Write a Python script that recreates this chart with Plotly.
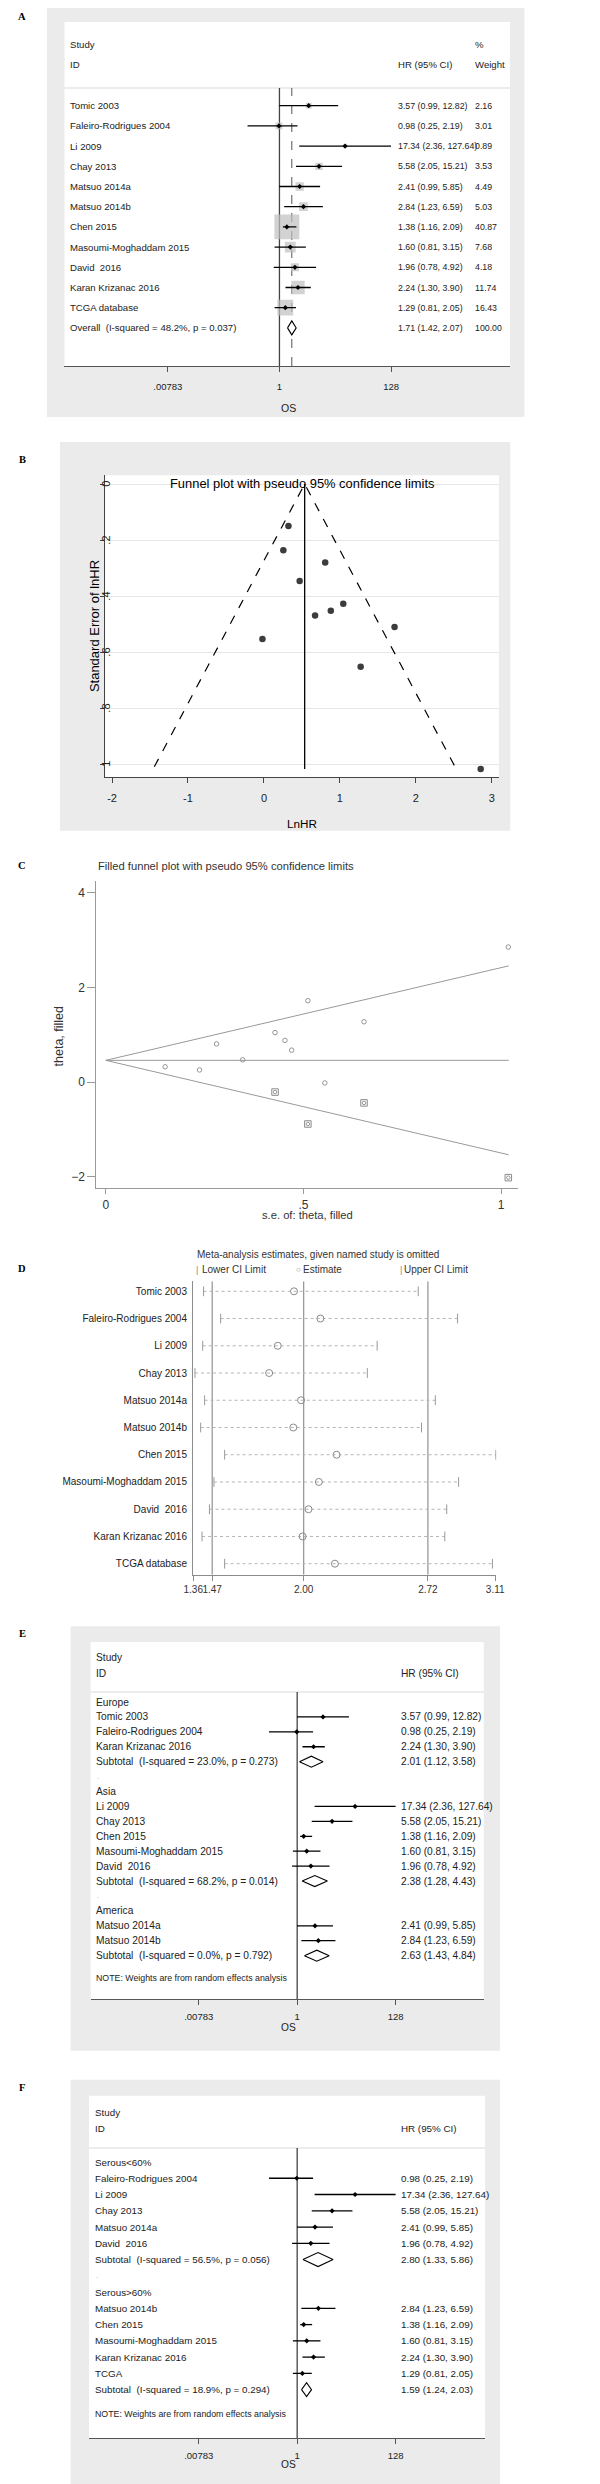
import numpy as np
import plotly.graph_objects as go

W, H = 600, 2484
SANS = "Arial, Liberation Sans, Helvetica, sans-serif"
SERIF = "Times New Roman, Liberation Serif, serif"
INK = "#222222"
PANEL_BG = "#ebebeb"

# ---------------- DATA ----------------
# Panel A: overall forest plot
a_studies = ["Tomic 2003", "Faleiro-Rodrigues 2004", "Li 2009", "Chay 2013", "Matsuo 2014a",
             "Matsuo 2014b", "Chen 2015", "Masoumi-Moghaddam 2015", "David\u00a0 2016",
             "Karan Krizanac 2016", "TCGA database"]
a_hr = [3.57, 0.98, 17.34, 5.58, 2.41, 2.84, 1.38, 1.60, 1.96, 2.24, 1.29]
a_lo = [0.99, 0.25, 2.36, 2.05, 0.99, 1.23, 1.16, 0.81, 0.78, 1.30, 0.81]
a_hi = [12.82, 2.19, 127.64, 15.21, 5.85, 6.59, 2.09, 3.15, 4.92, 3.90, 2.05]
a_weight = [2.16, 3.01, 0.89, 3.53, 4.49, 5.03, 40.87, 7.68, 4.18, 11.74, 16.43]
a_overall_label = "Overall\u00a0 (I-squared = 48.2%, p = 0.037)"
a_overall = [1.71, 1.42, 2.07]
a_overall_weight = "100.00"
forest_ticks = [0.00783, 1, 128]
forest_ticktext = [".00783", "1", "128"]

# Panel B: funnel plot
b_lnhr = [1.273, -0.020, 2.853, 1.719, 0.880, 1.044, 0.322, 0.470, 0.673, 0.806, 0.255]
b_se = [0.653, 0.554, 1.018, 0.511, 0.453, 0.428, 0.150, 0.346, 0.470, 0.280, 0.237]
b_theta = 0.536
b_se_max = 1.01
b_xticks = [-2, -1, 0, 1, 2, 3]
b_yticks = [0, 0.2, 0.4, 0.6, 0.8, 1]
b_ytext = ["0", ".2", ".4", ".6", ".8", "1"]

# Panel C: filled funnel plot (trim and fill)
c_se_obs = b_se
c_theta_obs = b_lnhr
c_se_fill = [0.428, 0.511, 0.653, 1.018]
c_theta_fill = [-0.213, -0.888, -0.442, -2.022]
c_theta = 0.458
c_se_max = 1.019
c_xticks = [0, 0.5, 1]
c_xtext = ["0", ".5", "1"]
c_yticks = [-2, 0, 2, 4]

# Panel D: sensitivity analysis
d_studies = ["Tomic 2003", "Faleiro-Rodrigues 2004", "Li 2009", "Chay 2013", "Matsuo 2014a",
             "Matsuo 2014b", "Chen 2015", "Masoumi-Moghaddam 2015", "David\u00a0 2016",
             "Karan Krizanac 2016", "TCGA database"]
d_lower = [1.420, 1.519, 1.415, 1.370, 1.426, 1.403, 1.542, 1.480, 1.454, 1.411, 1.542]
d_est = [1.944, 2.097, 1.850, 1.800, 1.985, 1.940, 2.191, 2.088, 2.028, 1.994, 2.181]
d_upper = [2.664, 2.892, 2.426, 2.369, 2.763, 2.683, 3.114, 2.898, 2.829, 2.818, 3.094]
d_ticks = [1.36, 1.47, 2.00, 2.72, 3.11]
d_ticktext = ["1.36", "1.47", "2.00", "2.72", "3.11"]
d_refs = [1.47, 2.00, 2.72]

# Panel E: subgroup by region
e_labels = ["Europe", "Tomic 2003", "Faleiro-Rodrigues 2004", "Karan Krizanac 2016",
            "Subtotal\u00a0 (I-squared = 23.0%, p = 0.273)", ".", "Asia", "Li 2009", "Chay 2013",
            "Chen 2015", "Masoumi-Moghaddam 2015", "David\u00a0 2016",
            "Subtotal\u00a0 (I-squared = 68.2%, p = 0.014)", ".", "America", "Matsuo 2014a",
            "Matsuo 2014b", "Subtotal\u00a0 (I-squared = 0.0%, p = 0.792)"]
e_kind = ["g", "s", "s", "s", "t", "b", "g", "s", "s", "s", "s", "s", "t", "b", "g", "s", "s", "t"]
e_hr = [None, 3.57, 0.98, 2.24, 2.01, None, None, 17.34, 5.58, 1.38, 1.60, 1.96, 2.38, None, None, 2.41, 2.84, 2.63]
e_lo = [None, 0.99, 0.25, 1.30, 1.12, None, None, 2.36, 2.05, 1.16, 0.81, 0.78, 1.28, None, None, 0.99, 1.23, 1.43]
e_hi = [None, 12.82, 2.19, 3.90, 3.58, None, None, 127.64, 15.21, 2.09, 3.15, 4.92, 4.43, None, None, 5.85, 6.59, 4.84]

# Panel F: subgroup by serous proportion
f_labels = ["Serous<60%", "Faleiro-Rodrigues 2004", "Li 2009", "Chay 2013", "Matsuo 2014a",
            "David\u00a0 2016", "Subtotal\u00a0 (I-squared = 56.5%, p = 0.056)", ".", "Serous>60%",
            "Matsuo 2014b", "Chen 2015", "Masoumi-Moghaddam 2015", "Karan Krizanac 2016", "TCGA",
            "Subtotal\u00a0 (I-squared = 18.9%, p = 0.294)"]
f_kind = ["g", "s", "s", "s", "s", "s", "t", "b", "g", "s", "s", "s", "s", "s", "t"]
f_hr = [None, 0.98, 17.34, 5.58, 2.41, 1.96, 2.80, None, None, 2.84, 1.38, 1.60, 2.24, 1.29, 1.59]
f_lo = [None, 0.25, 2.36, 2.05, 0.99, 0.78, 1.33, None, None, 1.23, 1.16, 0.81, 1.30, 0.81, 1.24]
f_hi = [None, 2.19, 127.64, 15.21, 5.85, 4.92, 5.86, None, None, 6.59, 2.09, 3.15, 3.90, 2.05, 2.03]

note_text = "NOTE: Weights are from random effects analysis"

# ---------------- HELPERS ----------------
def xp(px):
    return px / W


def yp(py):
    return 1 - py / H


shapes, annotations, traces = [], [], []


def rect(x0, y0, x1, y1, fill):
    shapes.append(dict(type="rect", xref="paper", yref="paper", x0=xp(x0), x1=xp(x1),
                       y0=yp(y1), y1=yp(y0), fillcolor=fill, line=dict(width=0), layer="below"))


def hline(x0, x1, y, color, width=1.0):
    shapes.append(dict(type="line", xref="paper", yref="paper", x0=xp(x0), x1=xp(x1),
                       y0=yp(y), y1=yp(y), line=dict(color=color, width=width), layer="below"))


def text(x, y, s, size=10, anchor="left", color=INK, yref="paper", family=SANS, angle=0):
    annotations.append(dict(x=xp(x), y=(yp(y) if yref == "paper" else y), xref="paper", yref=yref,
                            text=s, showarrow=False, xanchor=anchor, yanchor="middle",
                            font=dict(size=size, color=color, family=family), textangle=angle,
                            borderpad=0))


def line_trace(xa, ya, xs, ys, color, width, dash="solid"):
    traces.append(go.Scatter(x=xs, y=ys, mode="lines", xaxis=xa, yaxis=ya, hoverinfo="skip",
                             line=dict(color=color, width=width, dash=dash)))


def segments(xa, ya, x0s, x1s, rows, color, width, dash="solid"):
    xs, ys = [], []
    for r, a, b in zip(rows, x0s, x1s):
        xs += [a, b, None]
        ys += [r, r, None]
    line_trace(xa, ya, xs, ys, color, width, dash)


def diamond(xa, ya, row, est, lo, hi, half):
    traces.append(go.Scatter(x=[lo, est, hi, est, lo], y=[row, row - half, row, row + half, row],
                             mode="lines", fill="toself", fillcolor="white", xaxis=xa, yaxis=ya,
                             hoverinfo="skip", line=dict(color="black", width=1.1)))


def rows_range(top_px, bottom_px, first_px, step):
    return [(bottom_px - first_px) / step, (top_px - first_px) / step]


def letter(y, s):
    text(4.5, y, "<b>%s</b>" % s, size=10.5, anchor="center", color="black", family=SERIF)


def fmt(h, l, u):
    return "%.2f (%.2f, %.2f)" % (h, l, u)


def forest_axis(dom_l, dom_r, one_px, per_log10, anchor, label_standoff):
    return dict(domain=[xp(dom_l), xp(dom_r)], type="log",
                range=[(dom_l - one_px) / per_log10, (dom_r - one_px) / per_log10],
                anchor=anchor, showline=True, linecolor="#555555", linewidth=1.3,
                ticks="outside", ticklen=5, tickcolor="#555555", tickwidth=1.2,
                tickvals=forest_ticks, ticktext=forest_ticktext, tickangle=0,
                tickfont=dict(size=9.5, color=INK, family=SANS), showgrid=False, zeroline=False,
                ticklabelstandoff=label_standoff, fixedrange=True)


layout = dict(width=W, height=H, margin=dict(l=0, r=0, t=0, b=0), paper_bgcolor="white",
              plot_bgcolor="rgba(0,0,0,0)", showlegend=False)

# ================= PANEL A =================
letter(8, "A")
rect(30, 0, 523, 409, PANEL_BG)
rect(48, 14, 508, 358, "white")
hline(48, 508, 80, "#d9d9d9", 1)
A_FIRST, A_STEP = 97.7, 20.2
layout["xaxis"] = forest_axis(48, 508, 270, 54.72, "y", 6)
layout["yaxis"] = dict(domain=[yp(358), yp(80)], range=rows_range(80, 358, A_FIRST, A_STEP),
                       visible=False, fixedrange=True)
a_rows = list(range(len(a_studies)))
a_ov_row = len(a_studies)
yr = layout["yaxis"]["range"]
line_trace("x", "y", [1, 1], [yr[0], yr[1]], "#444444", 1.3)
line_trace("x", "y", [a_overall[0]] * 2, [yr[0], yr[1]], "#555555", 1.0, "dash")
traces.append(go.Scatter(x=a_hr, y=a_rows, mode="markers", xaxis="x", yaxis="y", hoverinfo="skip",
                         marker=dict(symbol="square", color="#bfbfbf", line=dict(width=0),
                                     size=[3.9 * np.sqrt(w) for w in a_weight])))
segments("x", "y", a_lo, a_hi, a_rows, "black", 1.3)
traces.append(go.Scatter(x=a_hr, y=a_rows, mode="markers", xaxis="x", yaxis="y", hoverinfo="skip",
                         marker=dict(symbol="diamond", size=4, color="black")))
diamond("x", "y", a_ov_row, a_overall[0], a_overall[1], a_overall[2], 7 / A_STEP)
FA, FA_NUM = 9.6, 8.8
text(53, 37, "Study", FA)
text(53, 57, "ID", FA)
text(391, 57, "HR (95% CI)", FA)
text(471, 37, "%", FA)
text(471, 57, "Weight", FA)
for i, s in enumerate(a_studies):
    text(53, i, s, FA, yref="y")
    text(391, i, fmt(a_hr[i], a_lo[i], a_hi[i]), FA_NUM, yref="y")
    text(471, i, "%.2f" % a_weight[i], FA_NUM, yref="y")
text(53, a_ov_row, a_overall_label, FA, yref="y")
text(391, a_ov_row, fmt(*a_overall), FA_NUM, yref="y")
text(471, a_ov_row, a_overall_weight, FA_NUM, yref="y")
text(279, 400, "OS", 10.5, anchor="center")

# ================= PANEL B =================
letter(451, "B")
rect(43.3, 434, 508.3, 822.7, PANEL_BG)
rect(90, 467.3, 496.7, 769.3, "white")
B0, BPX = 254, 78.45
BSE0, BSEPX = 476, 280
layout["xaxis2"] = dict(domain=[xp(90), xp(496.7)], range=[(90 - B0) / BPX, (496.7 - B0) / BPX],
                        anchor="y2", showline=True, linecolor="#444444", linewidth=1.3,
                        ticks="outside", ticklen=5, tickcolor="#444444", tickvals=b_xticks,
                        ticktext=[str(v) for v in b_xticks], tickangle=0,
                        tickfont=dict(size=11, color=INK, family=SANS), showgrid=False,
                        zeroline=False, ticklabelstandoff=5, fixedrange=True)
layout["yaxis2"] = dict(domain=[yp(769.3), yp(467.3)],
                        range=[(769.3 - BSE0) / BSEPX, (467.3 - BSE0) / BSEPX], anchor="x2",
                        showline=True, linecolor="#444444", linewidth=1.3, ticks="outside",
                        ticklen=4, tickcolor="#444444", tickvals=b_yticks, showticklabels=False,
                        showgrid=True, gridcolor="#e6e6e6", gridwidth=1, zeroline=False,
                        fixedrange=True)
for v, t in zip(b_yticks, b_ytext):
    text(90.5, v, t, 11, anchor="center", yref="y2", angle=-90)
line_trace("x2", "y2", [b_theta - 1.96 * b_se_max, b_theta, b_theta + 1.96 * b_se_max],
           [b_se_max, 0, b_se_max], "black", 1.2, "dash")
line_trace("x2", "y2", [b_theta, b_theta], [0, max(b_se)], "black", 1.3)
traces.append(go.Scatter(x=b_lnhr, y=b_se, mode="markers", xaxis="x2", yaxis="y2", hoverinfo="skip",
                         marker=dict(symbol="circle", size=6.5, color="#3c3c3c")))
text(293, 476, "Funnel plot with pseudo 95% confidence limits", 12.9, anchor="center", color="black")
text(78.3, 618.3, "Standard Error of lnHR", 13, anchor="center", color="black", angle=-90)
text(293.3, 815, "LnHR", 11.7, anchor="center", color="black")

# ================= PANEL C =================
letter(857, "C")
C0, CPX = 90.7, 408.3
CT0, CTPX = 1074, 47.3
layout["xaxis3"] = dict(domain=[xp(81), xp(516.7)], range=[(81 - C0) / CPX, (516.7 - C0) / CPX],
                        anchor="y3", showline=True, linecolor="#999999", linewidth=1,
                        ticks="outside", ticklen=5, tickcolor="#999999", tickvals=c_xticks,
                        ticktext=c_xtext, tickangle=0,
                        tickfont=dict(size=12, color="#333333", family=SANS),
                        showgrid=False, zeroline=False, ticklabelstandoff=1, fixedrange=True)
layout["yaxis3"] = dict(domain=[yp(1180), yp(873.3)],
                        range=[(CT0 - 1180) / CTPX, (CT0 - 873.3) / CTPX], anchor="x3",
                        showline=True, linecolor="#999999", linewidth=1, ticks="outside",
                        ticklen=8, tickcolor="#999999", tickvals=c_yticks,
                        tickfont=dict(size=12, color="#333333", family=SANS), showgrid=False,
                        zeroline=False, fixedrange=True)
line_trace("x3", "y3", [0, c_se_max], [c_theta, c_theta], "#999999", 1)
line_trace("x3", "y3", [0, c_se_max], [c_theta, c_theta + 1.96 * c_se_max], "#999999", 1)
line_trace("x3", "y3", [0, c_se_max], [c_theta, c_theta - 1.96 * c_se_max], "#999999", 1)
traces.append(go.Scatter(x=c_se_obs, y=c_theta_obs, mode="markers", xaxis="x3", yaxis="y3",
                         hoverinfo="skip",
                         marker=dict(symbol="circle-open", size=4.5, color="#8a8a8a",
                                     line=dict(width=0.9, color="#8a8a8a"))))
traces.append(go.Scatter(x=c_se_fill, y=c_theta_fill, mode="markers", xaxis="x3", yaxis="y3",
                         hoverinfo="skip",
                         marker=dict(symbol="square-open", size=6.5, color="#8a8a8a",
                                     line=dict(width=1, color="#8a8a8a"))))
traces.append(go.Scatter(x=c_se_fill, y=c_theta_fill, mode="markers", xaxis="x3", yaxis="y3",
                         hoverinfo="skip",
                         marker=dict(symbol="circle-open", size=3.5, color="#8a8a8a",
                                     line=dict(width=0.9, color="#8a8a8a"))))
text(81.7, 858.3, "Filled funnel plot with pseudo 95% confidence limits", 11.2, color="#333333")
text(43.3, 1027.5, "theta, filled", 12.5, anchor="center", color="#333333", angle=-90)
text(299, 1206.7, "s.e. of: theta, filled", 11.2, anchor="center", color="#333333")

# ================= PANEL D =================
letter(1260, "D")
D2, DPX = 295, 178.2
D_FIRST, D_STEP = 1283.3, 27.24
layout["xaxis4"] = dict(domain=[xp(180.8), xp(494)],
                        range=[2 + (180.8 - D2) / DPX, 2 + (494 - D2) / DPX], anchor="y4",
                        showline=True, linecolor="#8c8c8c", linewidth=1.2, ticks="outside",
                        ticklen=5, tickcolor="#8c8c8c", tickvals=d_ticks, ticktext=d_ticktext,
                        tickangle=0,
                        tickfont=dict(size=10, color="#333333", family=SANS), showgrid=False,
                        zeroline=False, ticklabelstandoff=0, fixedrange=True)
layout["yaxis4"] = dict(domain=[yp(1566.7), yp(1273.3)],
                        range=rows_range(1273.3, 1566.7, D_FIRST, D_STEP), anchor="x4",
                        showline=True, linecolor="#8c8c8c", linewidth=1.2, ticks="",
                        tickvals=list(range(len(d_studies))), ticktext=d_studies,
                        tickfont=dict(size=10, color=INK, family=SANS), showgrid=False,
                        zeroline=False, ticklabelstandoff=3, fixedrange=True)
d_rows = list(range(len(d_studies)))
dyr = layout["yaxis4"]["range"]
for v in d_refs:
    line_trace("x4", "y4", [v, v], [dyr[0], dyr[1]], "#9a9a9a", 1.3)
segments("x4", "y4", d_lower, d_upper, d_rows, "#b5b5b5", 1, "dot")
traces.append(go.Scatter(x=d_lower + d_upper, y=d_rows + d_rows, mode="markers", xaxis="x4",
                         yaxis="y4", hoverinfo="skip",
                         marker=dict(symbol="line-ns-open", size=7, color="#9a9a9a",
                                     line=dict(width=1, color="#9a9a9a"))))
traces.append(go.Scatter(x=d_est, y=d_rows, mode="markers", xaxis="x4", yaxis="y4",
                         hoverinfo="skip",
                         marker=dict(symbol="circle-open", size=7, color="#8a8a8a",
                                     line=dict(width=1, color="#8a8a8a"))))
text(184.3, 1246.7, "Meta-analysis estimates, given named study is omitted", 10, color="#333333")
text(183.3, 1261.7, "|", 9, color="#8a8a8a")
text(189.3, 1261.7, "Lower CI Limit", 10, color="#333333")
text(286.5, 1261.7, "\u25cb", 8, color="#8a8a8a")
text(293.3, 1261.7, "Estimate", 10, color="#333333")
text(393.3, 1261.7, "|", 9, color="#8a8a8a")
text(397.3, 1261.7, "Upper CI Limit", 10, color="#333333")


# ================= PANELS E & F =================
def subgroup_forest(xa, ya, labels, kinds, hrs, los, his, step, name_x, hr_x, fs, half):
    srow = [i for i, k in enumerate(kinds) if k == "s"]
    segments(xa, ya, [los[i] for i in srow], [his[i] for i in srow], srow, "black", 1.3)
    traces.append(go.Scatter(x=[hrs[i] for i in srow], y=srow, mode="markers", xaxis=xa, yaxis=ya,
                             hoverinfo="skip", marker=dict(symbol="diamond", size=4, color="black")))
    for i, k in enumerate(kinds):
        if k == "t":
            diamond(xa, ya, i, hrs[i], los[i], his[i], half / step)
        if k == "b":
            text(name_x + 1, i, ".", 7, yref=ya, color="#aaaaaa")
            continue
        text(name_x, i, labels[i], fs, yref=ya)
        if hrs[i] is not None:
            text(hr_x, i, fmt(hrs[i], los[i], his[i]), fs, yref=ya)
    text(name_x, len(kinds) + 0.5, note_text, 8.8, yref=ya)


# ---- E ----
letter(1625, "E")
rect(54.3, 1618.3, 497.7, 2042.7, PANEL_BG)
rect(75, 1634, 481, 1991, "white")
hline(75, 481, 1684, "#d9d9d9", 1)
E_FIRST, E_STEP = 1694, 14.92
layout["xaxis5"] = forest_axis(75, 481, 288.3, 48.27, "y5", 3)
layout["yaxis5"] = dict(domain=[yp(1991), yp(1684)], range=rows_range(1684, 1991, E_FIRST, E_STEP),
                        visible=False, fixedrange=True)
eyr = layout["yaxis5"]["range"]
line_trace("x5", "y5", [1, 1], [eyr[0], eyr[1]], "#444444", 1.3)
subgroup_forest("x5", "y5", e_labels, e_kind, e_hr, e_lo, e_hi, E_STEP, 80, 395, 10.2, 5.5)
text(80, 1650, "Study", 10.2)
text(80, 1665, "ID", 10.2)
text(395, 1665, "HR (95% CI)", 10.2)
text(279.3, 2019.3, "OS", 10.2, anchor="center")

# ---- F ----
letter(2079.5, "F")
rect(54.3, 2071.7, 497.7, 2478.3, PANEL_BG)
rect(73.3, 2087.7, 482.3, 2430, "white")
hline(73.3, 482.3, 2140, "#d9d9d9", 1)
F_FIRST, F_STEP = 2154, 16.26
layout["xaxis6"] = forest_axis(73.3, 482.3, 288.3, 48.27, "y6", 3)
layout["yaxis6"] = dict(domain=[yp(2430), yp(2140)], range=rows_range(2140, 2430, F_FIRST, F_STEP),
                        visible=False, fixedrange=True)
fyr = layout["yaxis6"]["range"]
line_trace("x6", "y6", [1, 1], [fyr[0], fyr[1]], "#444444", 1.3)
subgroup_forest("x6", "y6", f_labels, f_kind, f_hr, f_lo, f_hi, F_STEP, 78.3, 395, 9.8, 7)
text(78.3, 2104.3, "Study", 9.8)
text(78.3, 2120.7, "ID", 9.8)
text(395, 2120.7, "HR (95% CI)", 9.8)
text(279.3, 2456, "OS", 10.2, anchor="center")

layout["shapes"] = shapes
layout["annotations"] = annotations
fig = go.Figure(data=traces, layout=layout)
fig.write_html("out.html")
